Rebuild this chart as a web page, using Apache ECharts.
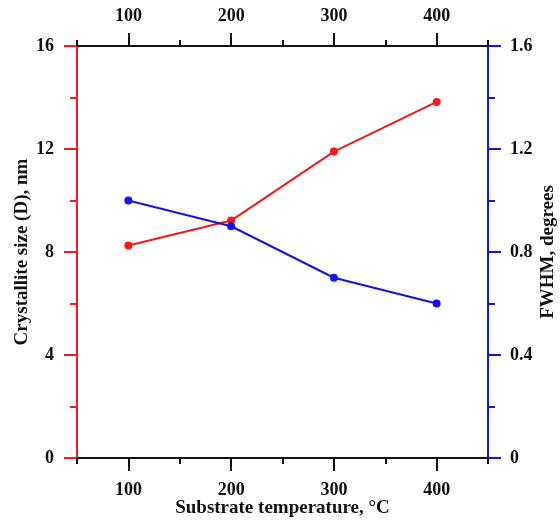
<!DOCTYPE html>
<html>
<head>
<meta charset="utf-8">
<script src="https://cdn.jsdelivr.net/npm/echarts@6/dist/echarts.min.js"></script>
<style>html,body{margin:0;padding:0;background:#fff}#c{width:560px;height:521px}</style>
</head>
<body>
<div id="c"></div>
<script>
var temperatures = [100, 200, 300, 400];
var crystalliteSize = [8.25, 9.22, 11.9, 13.83];
var fwhm = [1.0, 0.9, 0.7, 0.6];
var xMajorTicks = [100, 200, 300, 400];
var xMinorTicks = [50, 150, 250, 350, 450];

var RED = '#ee1c1c', BLUE = '#1414e6', BLACK = '#111';
var FONT = 'Liberation Serif';
var lblStyle = {fontFamily: FONT, fontWeight: 'bold', fontSize: 18, color: BLACK};
var nameStyle = {fontFamily: FONT, fontWeight: 'bold', fontSize: 19, color: BLACK};

function xAx(pos, major) {
  return {
    type: 'value', position: pos, min: 50, max: 450, interval: 50,
    axisLine: {show: major, onZero: false, lineStyle: {color: BLACK, width: 2}},
    axisTick: {show: true, inside: false, length: major ? 13 : 6,
      customValues: major ? xMajorTicks : xMinorTicks, lineStyle: {color: BLACK, width: 2}},
    axisLabel: Object.assign({show: major, margin: pos === 'bottom' ? 23 : 21, customValues: xMajorTicks}, lblStyle),
    splitLine: {show: false},
    name: (pos === 'bottom' && major) ? 'Substrate temperature, \u00b0C' : '',
    nameLocation: 'middle', nameGap: 41, nameMoveOverlap: false,
    nameTextStyle: nameStyle
  };
}

var chart = echarts.init(document.getElementById('c'));
chart.setOption({
  animation: false,
  grid: {left: 77, right: 72, top: 46, bottom: 63, containLabel: false, outerBoundsMode: 'none'},
  xAxis: [xAx('bottom', true), xAx('bottom', false), xAx('top', true), xAx('top', false)],
  yAxis: [{
    type: 'value', position: 'left', min: 0, max: 16, interval: 4,
    axisLine: {show: true, lineStyle: {color: RED, width: 2}},
    axisTick: {show: true, length: 13, lineStyle: {color: RED, width: 2}},
    minorTick: {show: true, splitNumber: 2, length: 7, lineStyle: {color: RED, width: 2}},
    axisLabel: Object.assign({margin: 23}, lblStyle),
    splitLine: {show: false},
    name: 'Crystallite size (D), nm', nameLocation: 'middle', nameGap: 45, nameMoveOverlap: false,
    nameTextStyle: nameStyle
  }, {
    type: 'value', position: 'right', min: 0, max: 1.6, interval: 0.4,
    axisLine: {show: true, lineStyle: {color: BLUE, width: 2}},
    axisTick: {show: true, length: 13, lineStyle: {color: BLUE, width: 2}},
    minorTick: {show: true, splitNumber: 2, length: 7, lineStyle: {color: BLUE, width: 2}},
    axisLabel: Object.assign({margin: 22, formatter: function (v) { return v === 0 ? '0' : v.toFixed(1); }}, lblStyle),
    splitLine: {show: false},
    name: 'FWHM, degrees', nameLocation: 'middle', nameGap: 51, nameRotate: 90, nameMoveOverlap: false,
    nameTextStyle: nameStyle
  }],
  series: [{
    type: 'line', xAxisIndex: 0, yAxisIndex: 0,
    data: temperatures.map(function (t, i) { return [t, crystalliteSize[i]]; }),
    symbol: 'circle', symbolSize: 8,
    lineStyle: {color: RED, width: 2}, itemStyle: {color: RED}
  }, {
    type: 'line', xAxisIndex: 0, yAxisIndex: 1,
    data: temperatures.map(function (t, i) { return [t, fwhm[i]]; }),
    symbol: 'circle', symbolSize: 8,
    lineStyle: {color: BLUE, width: 2}, itemStyle: {color: BLUE}
  }]
});
</script>
</body>
</html>
